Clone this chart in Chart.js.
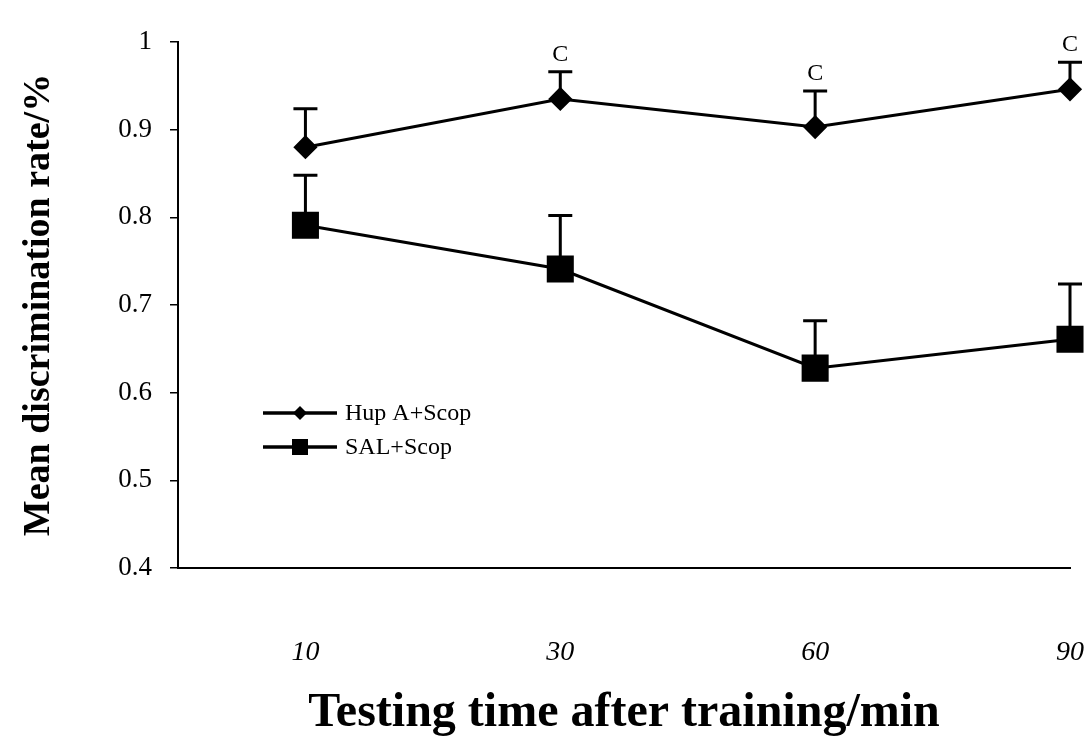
<!DOCTYPE html>
<html lang="en">
<head>
  <meta charset="UTF-8">
  <title>Mean discrimination rate</title>
  <script src="https://cdn.jsdelivr.net/npm/chart.js"></script>
  <style>
    body { margin: 0; background: #fff; }
    #wrap { width: 1090px; height: 742px; }
  </style>
</head>
<body>
  <div id="wrap"><canvas id="chart"></canvas></div>

  <script>
    const timeLabels = ['10', '30', '60', '90'];
    const yTickLabels = ['0.4', '0.5', '0.6', '0.7', '0.8', '0.9', '1'];

    const hupMean = [0.880, 0.935, 0.903, 0.946];
    const hupSD   = [0.044, 0.031, 0.041, 0.031];
    const hupSig  = ['', 'C', 'C', 'C'];

    const salMean = [0.791, 0.741, 0.628, 0.661];
    const salSD   = [0.057, 0.061, 0.054, 0.063];
    const salSig  = ['', '', '', ''];

    const serif = "'Liberation Serif', 'DejaVu Serif', serif";
    Chart.defaults.font.family = serif;
    Chart.defaults.color = '#000';

    const toPoints = arr => arr.map((v, i) => ({ x: i, y: v }));

    // error bars (upper only) + significance letters
    const errorBars = {
      id: 'errorBars',
      beforeDatasetsDraw(chart) {
        const ctx = chart.ctx;
        const xs = chart.scales.x, ys = chart.scales.y;
        chart.data.datasets.forEach(ds => {
          ds.data.forEach((p, i) => {
            const x = xs.getPixelForValue(p.x);
            const y0 = ys.getPixelForValue(p.y);
            const y1 = ys.getPixelForValue(p.y + ds.sd[i]);
            ctx.save();
            ctx.strokeStyle = '#000';
            ctx.lineWidth = 3;
            ctx.beginPath();
            ctx.moveTo(x, y0);
            ctx.lineTo(x, y1);
            ctx.moveTo(x - 12, y1);
            ctx.lineTo(x + 12, y1);
            ctx.stroke();
            if (ds.sig[i]) {
              ctx.fillStyle = '#000';
              ctx.font = '24px ' + serif;
              ctx.textAlign = 'center';
              ctx.textBaseline = 'bottom';
              ctx.fillText(ds.sig[i], x, y1 - 5);
            }
            ctx.restore();
          });
        });
      }
    };

    // small legend inside the plot, left side
    const innerLegend = {
      id: 'innerLegend',
      afterDraw(chart) {
        const ctx = chart.ctx;
        const a = chart.chartArea;
        const rows = [a.top + 371, a.top + 405];
        chart.data.datasets.forEach((ds, k) => {
          const y = rows[k];
          const x0 = a.left + 85, x1 = a.left + 159, xm = a.left + 122;
          ctx.save();
          ctx.strokeStyle = '#000';
          ctx.fillStyle = '#000';
          ctx.lineWidth = 3.5;
          ctx.beginPath();
          ctx.moveTo(x0, y);
          ctx.lineTo(x1, y);
          ctx.stroke();
          ctx.beginPath();
          if (ds.pointStyle === 'rectRot') {
            ctx.moveTo(xm, y - 7); ctx.lineTo(xm + 7, y);
            ctx.lineTo(xm, y + 7); ctx.lineTo(xm - 7, y);
          } else {
            ctx.rect(xm - 8, y - 8, 16, 16);
          }
          ctx.closePath();
          ctx.fill();
          ctx.font = '24px ' + serif;
          ctx.textAlign = 'left';
          ctx.textBaseline = 'middle';
          ctx.fillText(ds.label, x1 + 8, y + 1);
          ctx.restore();
        });
      }
    };

    new Chart(document.getElementById('chart'), {
      type: 'line',
      data: {
        datasets: [
          {
            label: 'Hup A+Scop',
            data: toPoints(hupMean),
            sd: hupSD,
            sig: hupSig,
            borderColor: '#000',
            backgroundColor: '#000',
            borderWidth: 3,
            pointStyle: 'rectRot',
            pointRadius: 10,
            pointBackgroundColor: '#000',
            pointBorderColor: '#000',
            clip: false
          },
          {
            label: 'SAL+Scop',
            data: toPoints(salMean),
            sd: salSD,
            sig: salSig,
            borderColor: '#000',
            backgroundColor: '#000',
            borderWidth: 3,
            pointStyle: 'rect',
            pointRadius: 17,
            pointBackgroundColor: '#000',
            pointBorderColor: '#000',
            clip: false
          }
        ]
      },
      options: {
        responsive: true,
        maintainAspectRatio: false,
        animation: false,
        layout: { padding: { top: 42, right: 20, left: 0, bottom: 0 } },
        plugins: {
          legend: { display: false },
          tooltip: { enabled: false }
        },
        scales: {
          x: {
            type: 'linear',
            min: -0.5,
            max: 3,
            afterBuildTicks: s => { s.ticks = timeLabels.map((t, i) => ({ value: i })); },
            afterFit: s => { s.height = 174; },
            grid: { display: false, drawTicks: true, tickLength: 68 },
            border: { display: true, color: '#000', width: 2 },
            ticks: {
              padding: 0,
              font: { size: 28, style: 'italic' },
              callback: v => timeLabels[v]
            },
            title: {
              display: true,
              text: 'Testing time after training/min',
              font: { size: 48, weight: 'bold' },
              padding: { top: 0, bottom: 0 }
            }
          },
          y: {
            min: 0.4,
            max: 1,
            afterBuildTicks: s => { s.ticks = yTickLabels.map(t => ({ value: parseFloat(t) })); },
            afterFit: s => { s.width = 178; },
            grid: { drawOnChartArea: false, drawTicks: true, tickLength: 8, color: '#000', lineWidth: 1.5 },
            border: { display: true, color: '#000', width: 2 },
            ticks: {
              padding: 18,
              font: { size: 27 },
              callback: (v, i) => yTickLabels[i]
            },
            title: {
              display: true,
              text: 'Mean discrimination rate/%',
              font: { size: 38, weight: 'bold' },
              padding: { top: 16, bottom: 0 }
            }
          }
        }
      },
      plugins: [errorBars, innerLegend]
    });
  </script>
</body>
</html>
